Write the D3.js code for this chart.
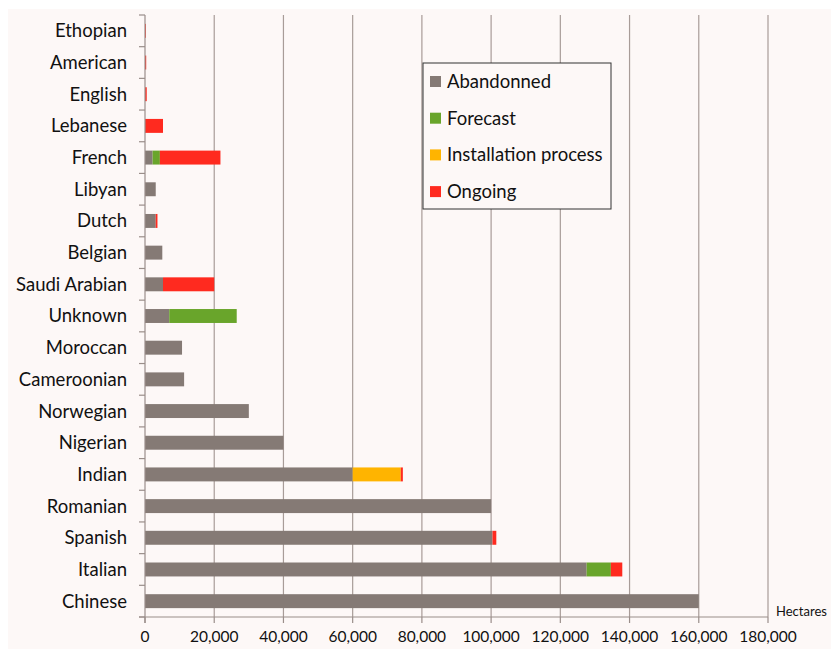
<!DOCTYPE html>
<html>
<head>
<meta charset="utf-8">
<script src="https://cdn.jsdelivr.net/npm/d3@7"></script>
<style>
  body { margin: 0; background: #ffffff; }
  text { font-family: Lato, "Open Sans", sans-serif; fill: #111; }
</style>
</head>
<body>
<div id="chart"></div>
<script>
// categories, top to bottom
const countries = ["Ethopian", "American", "English", "Lebanese", "French", "Libyan", "Dutch",
  "Belgian", "Saudi Arabian", "Unknown", "Moroccan", "Cameroonian", "Norwegian", "Nigerian",
  "Indian", "Romanian", "Spanish", "Italian", "Chinese"];

// hectares per status
const abandonned   = [0, 0, 0, 0, 2200, 3100, 3100, 5000, 5200, 7000, 10700, 11300, 30000, 40000, 60000, 100000, 100400, 127600, 160000];
const forecast     = [0, 0, 0, 0, 2100, 0, 0, 0, 0, 19500, 0, 0, 0, 0, 0, 0, 0, 7000, 0];
const installation = [0, 0, 0, 0, 0, 0, 0, 0, 0, 0, 0, 0, 0, 0, 13900, 0, 0, 0, 0];
const ongoing      = [250, 350, 500, 5200, 17500, 0, 500, 0, 14800, 0, 0, 0, 0, 0, 600, 0, 1100, 3300, 0];

const series = ["Abandonned", "Forecast", "Installation process", "Ongoing"];
const colors = ["#857a75", "#69a52b", "#ffb400", "#ff2a1f"];
const xTicks = [0, 20000, 40000, 60000, 80000, 100000, 120000, 140000, 160000, 180000];

const W = 831, H = 649;
const margin = {top: 15, right: 63, bottom: 32, left: 145};
const width = W - margin.left - margin.right,
      height = H - margin.top - margin.bottom;

const root = d3.select("#chart").append("svg")
    .attr("width", W)
    .attr("height", H);

// chart panel background
root.append("rect")
    .attr("x", 8).attr("y", 9)
    .attr("width", W - 8).attr("height", H - 9)
    .attr("fill", "#fdf8f7");

const svg = root.append("g")
    .attr("transform", `translate(${margin.left}, ${margin.top})`);

const x = d3.scaleLinear().domain([0, 180000]).range([0, width]);
const y = d3.scaleBand().domain(countries).range([0, height]).paddingInner(0.56).paddingOuter(0.28);

// gridlines
svg.append("g")
    .selectAll("line")
    .data(xTicks.slice(1))
    .enter()
    .append("line")
        .attr("x1", d => x(d)).attr("x2", d => x(d))
        .attr("y1", 0).attr("y2", height)
        .attr("stroke", "#a89c98")
        .attr("stroke-width", 1.2);

// stacked bars
const rows = countries.map((c, i) => ({
    country: c,
    Abandonned: abandonned[i],
    Forecast: forecast[i],
    "Installation process": installation[i],
    Ongoing: ongoing[i]
}));
const stacked = d3.stack().keys(series)(rows);

svg.append("g")
    .selectAll("g")
    .data(stacked)
    .enter()
    .append("g")
        .attr("fill", (d, i) => colors[i])
    .selectAll("rect")
    .data(d => d)
    .enter()
    .append("rect")
        .attr("x", d => x(d[0]))
        .attr("y", d => y(d.data.country))
        .attr("width", d => Math.max(0, x(d[1]) - x(d[0])))
        .attr("height", y.bandwidth());

// y axis: line + ticks at band edges
const bandEdges = d3.range(countries.length + 1).map(i => i * height / countries.length);
const yAx = svg.append("g");
yAx.append("line")
    .attr("x1", 0).attr("x2", 0).attr("y1", 0).attr("y2", height + 6)
    .attr("stroke", "#9a8e8a").attr("stroke-width", 1.2);
yAx.selectAll(".tk")
    .data(bandEdges)
    .enter()
    .append("line")
        .attr("x1", -6).attr("x2", 0)
        .attr("y1", d => d).attr("y2", d => d)
        .attr("stroke", "#9a8e8a").attr("stroke-width", 1.2);
yAx.selectAll(".lbl")
    .data(countries)
    .enter()
    .append("text")
        .attr("x", -18)
        .attr("y", d => y(d) + y.bandwidth() / 2)
        .attr("dy", "0.35em")
        .attr("text-anchor", "end")
        .style("font-size", "18.5px")
        .text(d => d);

// x axis
const xAx = svg.append("g").attr("transform", `translate(0, ${height})`);
xAx.append("line")
    .attr("x1", -6).attr("x2", width)
    .attr("stroke", "#9a8e8a").attr("stroke-width", 1.2);
xAx.selectAll(".tk")
    .data(xTicks)
    .enter()
    .append("line")
        .attr("x1", d => x(d)).attr("x2", d => x(d))
        .attr("y1", 0).attr("y2", 6)
        .attr("stroke", "#9a8e8a").attr("stroke-width", 1.2);
xAx.selectAll(".lbl")
    .data(xTicks)
    .enter()
    .append("text")
        .attr("x", d => x(d))
        .attr("y", 25)
        .attr("text-anchor", "middle")
        .style("font-size", "15.5px")
        .text(d => d3.format(",")(d));

svg.append("text")
    .attr("x", width + 8)
    .attr("y", height - 1)
    .style("font-size", "13px")
    .text("Hectares");

// legend
const legend = root.append("g").attr("transform", "translate(423, 63)");
legend.append("rect")
    .attr("width", 188).attr("height", 146)
    .attr("fill", "#fdf8f7")
    .attr("stroke", "#333").attr("stroke-width", 1);
legend.selectAll("rect.sw")
    .data(series)
    .enter()
    .append("rect")
        .attr("class", "sw")
        .attr("x", 7)
        .attr("y", (d, i) => 13 + i * 36.7)
        .attr("width", 11).attr("height", 11)
        .attr("fill", (d, i) => colors[i]);
legend.selectAll("text")
    .data(series)
    .enter()
    .append("text")
        .attr("x", 24)
        .attr("y", (d, i) => 18.5 + i * 36.7)
        .attr("dy", "0.35em")
        .style("font-size", "18.5px")
        .text(d => d);
</script>
</body>
</html>
